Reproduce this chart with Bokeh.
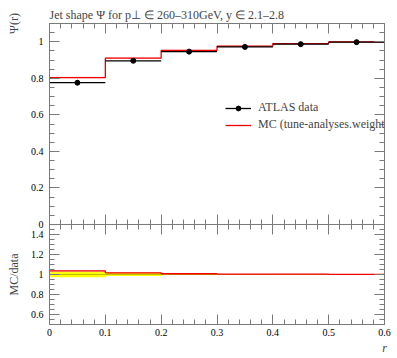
import numpy as np
from bokeh.plotting import figure
from bokeh.layouts import column
from bokeh.models import (Range1d, LinearAxis, FixedTicker, CustomJSTickFormatter,
                          Legend, LegendItem)
from bokeh.embed import file_html
from bokeh.resources import INLINE

# ---- data ----
bin_lo = [0.0, 0.1, 0.2, 0.3, 0.4, 0.5]
bin_hi = [0.1, 0.2, 0.3, 0.4, 0.5, 0.6]
data_vals = [0.776, 0.896, 0.946, 0.972, 0.987, 0.998]
data_err = [0.022, 0.013, 0.005, 0.003, 0.002, 0.001]
mc_vals = [0.804, 0.911, 0.953, 0.976, 0.990, 0.999]
mc_err = [0.004, 0.003, 0.003, 0.002, 0.002, 0.001]
x_ticks = [0, 0.1, 0.2, 0.3, 0.4, 0.5, 0.6]
main_yticks = [0, 0.2, 0.4, 0.6, 0.8, 1.0]
ratio_yticks = [0.6, 0.8, 1.0, 1.2, 1.4]

FONT = "Liberation Serif"
AX = "#7a7a7a"

lo = np.array(bin_lo); hi = np.array(bin_hi)
mid = (lo + hi) / 2
d = np.array(data_vals); de = np.array(data_err)
m = np.array(mc_vals); me = np.array(mc_err)
edges = list(bin_lo) + [bin_hi[-1]]


def num_fmt():
    return CustomJSTickFormatter(code="return Number(tick.toFixed(2)).toString();")


def blank_fmt():
    return CustomJSTickFormatter(code="return '';")


def style_axes(p, y_minor, xlabels, yticks):
    p.add_layout(LinearAxis(), "right")
    p.add_layout(LinearAxis(), "above")
    for ax in p.xaxis:
        ax.ticker = FixedTicker(ticks=x_ticks,
                                minor_ticks=list(np.round(np.arange(0, 0.6001, 0.02), 3)))
    for ax in p.yaxis:
        ax.ticker = FixedTicker(ticks=yticks, minor_ticks=y_minor)
    for ax in list(p.xaxis) + list(p.yaxis):
        ax.major_tick_in = 10
        ax.major_tick_out = 0
        ax.minor_tick_in = 5
        ax.minor_tick_out = 0
        ax.axis_line_color = AX
        ax.major_tick_line_color = AX
        ax.minor_tick_line_color = AX
        ax.formatter = num_fmt()
        ax.major_label_text_font = FONT
        ax.major_label_text_font_size = "10px"
        ax.major_label_text_color = "#000000"
        ax.major_label_standoff = 0
    p.right[0].formatter = blank_fmt()
    p.above[0].formatter = blank_fmt()
    if not xlabels:
        p.below[0].formatter = blank_fmt()
    else:
        p.below[0].major_label_standoff = 4
    p.left[0].major_label_standoff = 6
    p.xgrid.visible = False
    p.ygrid.visible = False
    p.outline_line_color = AX


main = figure(width=397, height=230, x_range=Range1d(0, 0.6),
              y_range=Range1d(0, 1.1), output_backend="svg", toolbar_location=None,
              min_border_left=49, min_border_right=13, min_border_top=23,
              min_border_bottom=6)
main.styles = {"margin-bottom": "-6px"}
main.title.text = "Jet shape \u03a8 for p\u22a5 \u2208 260\u2013310GeV, y \u2208 2.1\u20132.8"
main.title.text_font = FONT
main.title.text_font_size = "12px"
main.title.text_font_style = "normal"
main.title.standoff = 3
main.title.offset = 0
style_axes(main, list(np.round(np.arange(0, 1.1001, 0.05), 3)), False, main_yticks)
main.left[0].axis_label = "\u03a8(r)"
main.left[0].axis_label_align = "end"
main.left[0].axis_label_text_font = FONT
main.left[0].axis_label_text_font_style = "normal"
main.left[0].axis_label_text_font_size = "12px"
main.left[0].axis_label_standoff = 7

# MC band and line
main.quad(left=lo, right=hi, bottom=m - me, top=m + me, fill_color="#ff8080",
          fill_alpha=0.5, line_color=None)
mc_line = main.step(x=edges, y=list(m) + [m[-1]], mode="after", line_color="#ee0000",
                    line_width=1.3)
# data
hseg = main.segment(x0=lo, x1=hi, y0=d, y1=d, line_color="black", line_width=1.3)
main.segment(x0=mid, x1=mid, y0=d - de * 0.6, y1=d + de * 0.6, line_color="black",
             line_width=1.2)
dots = main.scatter(x=mid, y=d, size=5, color="black")

legend = Legend(items=[LegendItem(label="ATLAS data", renderers=[hseg, dots]),
                       LegendItem(label="MC (tune-analyses.weight", renderers=[mc_line])],
                location=(176, 92), border_line_alpha=0, background_fill_alpha=0,
                label_text_font=FONT, label_text_font_size="12px", glyph_width=26,
                glyph_height=12, label_height=12, label_standoff=7, padding=0, margin=0,
                spacing=2)
main.add_layout(legend)

ratio = figure(width=397, height=134, x_range=main.x_range,
               y_range=Range1d(0.5, 1.5), output_backend="svg", toolbar_location=None,
               min_border_left=49, min_border_right=13, min_border_top=0,
               min_border_bottom=34)
ratio.border_fill_alpha = 0
ratio.background_fill_alpha = 0
style_axes(ratio, list(np.round(np.arange(0.5, 1.5001, 0.05), 3)), True, ratio_yticks)
ratio.left[0].axis_label = "MC/data"
ratio.left[0].axis_label_text_font = FONT
ratio.left[0].axis_label_text_font_style = "normal"
ratio.left[0].axis_label_text_font_size = "12px"
ratio.left[0].axis_label_standoff = 7
ratio.below[0].axis_label = "r"
ratio.below[0].axis_label_align = "end"
ratio.below[0].axis_label_text_font = FONT
ratio.below[0].axis_label_text_font_size = "12px"
ratio.below[0].axis_label_standoff = 2

ratio.quad(left=lo, right=hi, bottom=1 - de / d, top=1 + de / d, fill_color="#ffff00",
           line_color=None)
ratio.segment(x0=lo, x1=hi, y0=np.ones_like(d), y1=np.ones_like(d), line_color="#808000",
              line_width=1, line_alpha=0.5)
ratio.quad(left=lo, right=hi, bottom=(m - me) / d, top=(m + me) / d, fill_color="#ff8080",
           fill_alpha=0.5, line_color=None)
ratio.step(x=edges, y=list(m / d) + [m[-1] / d[-1]], mode="after", line_color="#ee0000",
           line_width=1.3)

layout = column(main, ratio, spacing=0)
open("out.html", "w").write(file_html(layout, INLINE))
